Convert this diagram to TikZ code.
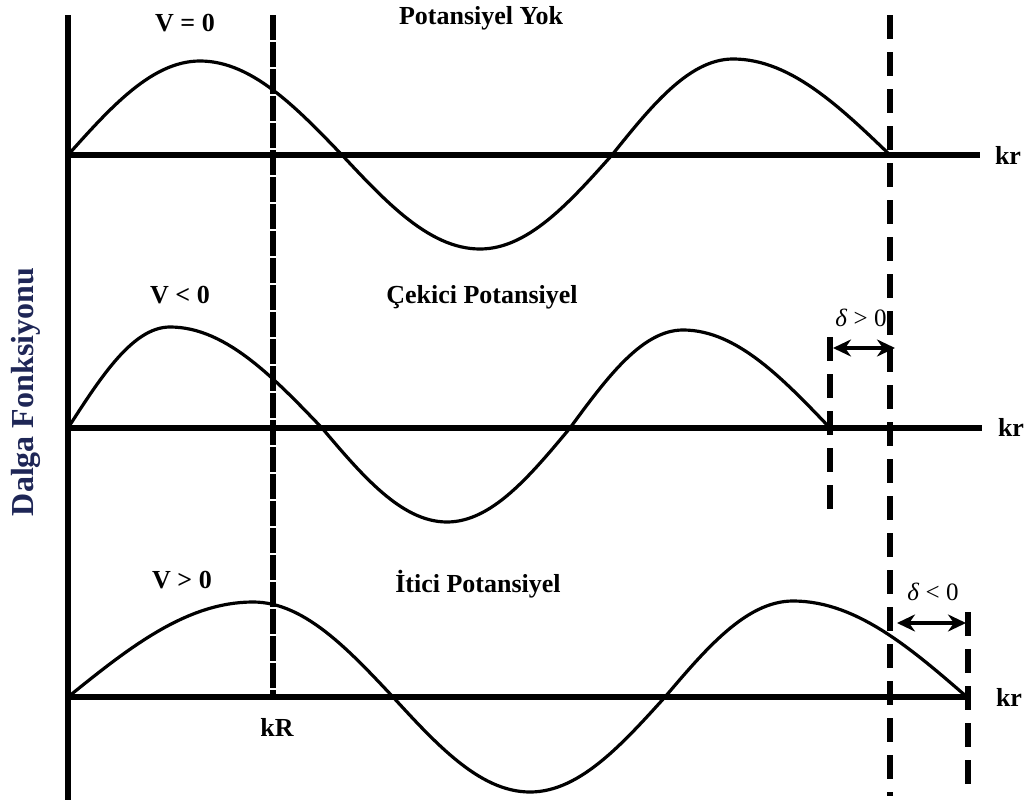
\documentclass[tikz,border=0pt]{standalone}
\usepackage{fontspec}
\setmainfont{Liberation Serif}
\usetikzlibrary{arrows.meta}

\definecolor{navy}{RGB}{30,38,86}

\begin{document}
\begin{tikzpicture}[x=1pt, y=-1pt,
        axis/.style = {line width=6pt},
        wave/.style = {line width=3.2pt, line cap=round, samples=30},
        kRline/.style = {line width=5.5pt, dash pattern=on 25pt off 2pt},
        shiftline/.style = {line width=5.5pt, dash pattern=on 24pt off 13pt},
        lbl/.style = {font=\fontsize{26}{30}\selectfont\bfseries, inner sep=0pt},
        dlbl/.style = {font=\fontsize{25}{30}\selectfont, inner sep=0pt},
        phasearrow/.style = {line width=4pt, {Stealth[length=18pt,width=17pt]}-{Stealth[length=18pt,width=17pt]}}]
    \useasboundingbox (0,0) rectangle (1034,803);

    % vertical lines
    \coordinate (ytop) at (68,15);
    \coordinate (ybot) at (68,800);
    \coordinate (kRtop) at (273,15);
    \coordinate (kRbot) at (273,697);
    \coordinate (Ltop) at (890,15);
    \coordinate (Lbot) at (890,796);
    \coordinate (Atop) at (830,337);
    \coordinate (Abot) at (830,512);
    \coordinate (Rtop) at (968,612);
    \coordinate (Rbot) at (968,790);
    \draw[axis] (ytop) -- (ybot);
    \draw[kRline] (kRtop) -- (kRbot);
    \draw[shiftline] (Ltop) -- (Lbot);
    \draw[shiftline] (Atop) -- (Abot);
    \draw[shiftline] (Rtop) -- (Rbot);

    % kr axes
    \coordinate (O1) at (68,155);
    \coordinate (E1) at (980,155);
    \coordinate (O2) at (68,428);
    \coordinate (E2) at (982,428);
    \coordinate (O3) at (68,697);
    \coordinate (E3) at (968,697);
    \draw[axis] (O1) -- (E1);
    \draw[axis] (O2) -- (E2);
    \draw[axis] (O3) -- (E3);
    \node[lbl] (kr1) at (1008,155) {kr};
    \node[lbl] (kr2) at (1011,427) {kr};
    \node[lbl] (kr3) at (1009,697) {kr};

    % waves: zero / peak / zero / amplitude of each half wave
    \foreach \za/\pk/\zb/\amp in {68/200/342/94, 342/480/612/-94, 612/733/890/96}
        \draw[wave] plot[domain=\za:\pk] (\x,{155-\amp*sin(90/(\pk-\za)*(\x-\za))})
            -- plot[domain=\pk:\zb] (\x,{155-\amp*cos(90/(\zb-\pk)*(\x-\pk))});
    \foreach \za/\pk/\zb/\amp in {68/170/322/101, 322/447/570/-94, 570/683/830/98}
        \draw[wave] plot[domain=\za:\pk] (\x,{428-\amp*sin(90/(\pk-\za)*(\x-\za))})
            -- plot[domain=\pk:\zb] (\x,{428-\amp*cos(90/(\zb-\pk)*(\x-\pk))});
    \foreach \za/\pk/\zb/\amp in {68/253/393/95, 393/530/665/-95, 665/793/967/96}
        \draw[wave] plot[domain=\za:\pk] (\x,{697-\amp*sin(90/(\pk-\za)*(\x-\za))})
            -- plot[domain=\pk:\zb] (\x,{697-\amp*cos(90/(\zb-\pk)*(\x-\pk))});

    % phase shifts
    \coordinate (sA) at (833,348);
    \coordinate (sB) at (895,348);
    \coordinate (sC) at (897,623);
    \coordinate (sD) at (966,623);
    \draw[phasearrow] (sA) -- (sB);
    \draw[phasearrow] (sC) -- (sD);
    \node[dlbl] (dpos) at (861,318) {\textit{δ} > 0};
    \node[dlbl] (dneg) at (933,592) {\textit{δ} < 0};

    % labels
    \node[lbl] (V0) at (185,23) {V = 0};
    \node[lbl] (Vneg) at (180,295) {V < 0};
    \node[lbl] (Vpos) at (182,580) {V > 0};
    \node[lbl] (none) at (481,18) {Potansiyel Yok};
    \node[lbl] (attr) at (482,297) {Çekici Potansiyel};
    \node[lbl] (rep) at (478,584) {İtici Potansiyel};
    \node[lbl] (kR) at (277,727) {kR};
    \node[lbl, font=\fontsize{32}{38}\selectfont\bfseries, text=navy, rotate=90] (psi) at (26,392) {Dalga Fonksiyonu};
\end{tikzpicture}
\end{document}
